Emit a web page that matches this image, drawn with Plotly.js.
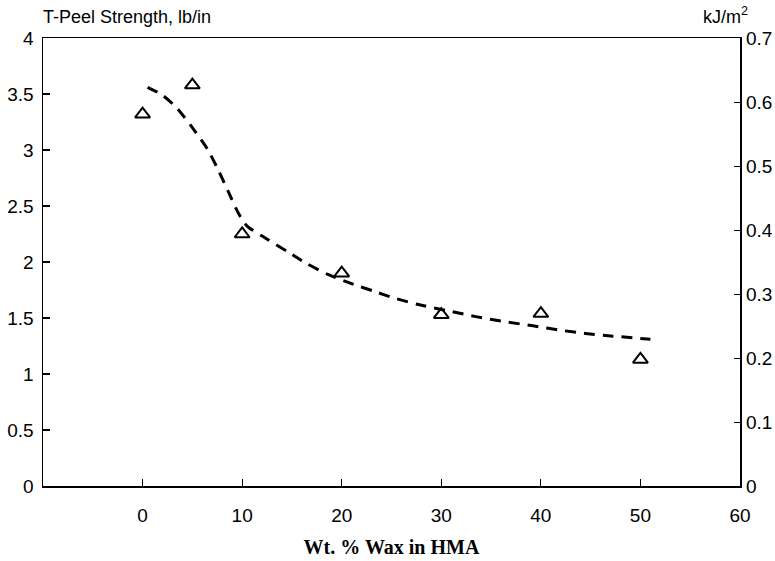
<!DOCTYPE html>
<html>
<head>
<meta charset="utf-8">
<script src="https://cdn.plot.ly/plotly-3.0.1.min.js"></script>
<style>html,body{margin:0;padding:0;background:#fff;}#chart{width:775px;height:561px;}</style>
</head>
<body>
<div id="chart"></div>
<script>
// Measured points (Wt. % wax vs T-peel strength, lb/in)
const waxPct = [0, 5, 10, 20, 30, 40, 50];
const peelStrength = [3.32, 3.58, 2.25, 1.90, 1.53, 1.54, 1.13];

// Dashed trend curve
const curveX = [0.5, 2.0, 3.5, 5, 6.5, 7.5, 8.6, 9.6, 10.5, 12.4, 14.6, 16.4, 18.6, 21.2, 23.2, 25.2, 27.7, 30.9, 33.6, 36.2, 39.2, 42, 44.7, 47, 51];
const curveY = [3.56, 3.49, 3.37, 3.20, 3.01, 2.84, 2.63, 2.44, 2.32, 2.21, 2.09, 1.99, 1.89, 1.80, 1.74, 1.68, 1.62, 1.56, 1.51, 1.47, 1.43, 1.39, 1.36, 1.34, 1.31];

const xTicks = [0, 10, 20, 30, 40, 50, 60];
const yTicksLeft = [0, 0.5, 1, 1.5, 2, 2.5, 3, 3.5, 4];
const yTicksRight = [0, 0.1, 0.2, 0.3, 0.4, 0.5, 0.6, 0.7];

const tickFont = {family: 'Liberation Sans, Arial, sans-serif', size: 19, color: '#000'};

const traces = [
  {
    x: curveX, y: curveY, type: 'scatter', mode: 'lines',
    line: {color: '#000', width: 3, dash: '11px,8px', shape: 'spline', smoothing: 0.6},
    hoverinfo: 'skip', showlegend: false
  },
  {
    x: waxPct, y: peelStrength, type: 'scatter', mode: 'markers',
    marker: {symbol: 'triangle-up-open', size: 13, color: '#000', line: {width: 2, color: '#000'}},
    showlegend: false
  },
  {
    x: [null], y: [null], yaxis: 'y2', type: 'scatter', mode: 'markers',
    showlegend: false, hoverinfo: 'skip'
  }
];

const layout = {
  width: 775, height: 561,
  margin: {l: 43, r: 35, t: 38, b: 75},
  paper_bgcolor: '#fff', plot_bgcolor: '#fff',
  showlegend: false,
  xaxis: {
    range: [-10, 60], tickvals: xTicks, ticktext: xTicks.map(String),
    ticks: 'inside', ticklen: 7, tickwidth: 1.2, tickcolor: '#000',
    showline: true, mirror: true, linecolor: '#000', linewidth: 1.5,
    showgrid: false, zeroline: false, tickfont: tickFont,
    ticklabelstandoff: 12,
    title: {text: 'Wt. % Wax in HMA', font: {family: 'Liberation Serif, Times New Roman, serif', size: 20, color: '#000', weight: 'bold'}, standoff: 14}
  },
  yaxis: {
    range: [0, 4], tickvals: yTicksLeft, ticktext: yTicksLeft.map(String),
    ticks: 'inside', ticklen: 7, tickwidth: 1.2, tickcolor: '#000',
    showline: true, mirror: true, linecolor: '#000', linewidth: 1.5,
    showgrid: false, zeroline: false, tickfont: tickFont,
    ticklabelstandoff: 4
  },
  yaxis2: {
    range: [0, 0.7], tickvals: yTicksRight, ticktext: yTicksRight.map(String),
    overlaying: 'y', side: 'right',
    ticks: 'inside', ticklen: 6, tickwidth: 1, tickcolor: '#000',
    showline: false, showgrid: false, zeroline: false, tickfont: tickFont,
    ticklabelstandoff: 5
  },
  annotations: [
    {text: 'T-Peel Strength, lb/in', xref: 'paper', yref: 'paper', x: 0, y: 1, xanchor: 'left', yanchor: 'bottom', yshift: 9, xshift: -2,
     showarrow: false, font: {family: 'Liberation Sans, Arial, sans-serif', size: 18, color: '#000'}},
    {text: 'kJ/m<sup>2</sup>', xref: 'paper', yref: 'paper', x: 1, y: 1, xanchor: 'right', yanchor: 'bottom', yshift: 9, xshift: 10,
     showarrow: false, font: {family: 'Liberation Sans, Arial, sans-serif', size: 18, color: '#000'}}
  ]
};

Plotly.newPlot('chart', traces, layout, {displayModeBar: false, staticPlot: true});
</script>
</body>
</html>
